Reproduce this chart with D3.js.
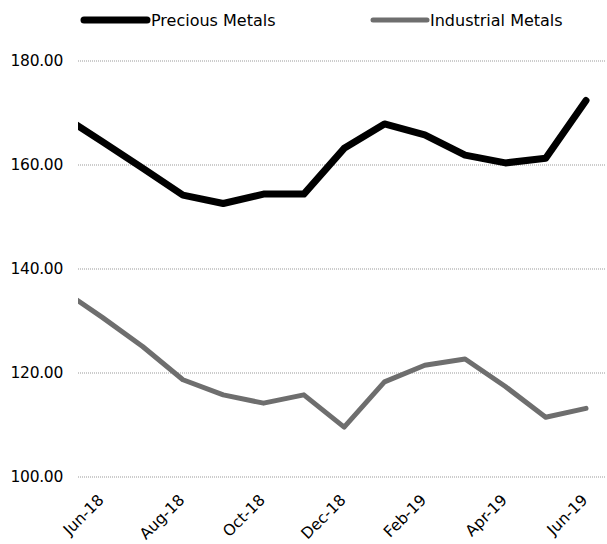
<!DOCTYPE html>
<html>
<head>
<meta charset="utf-8">
<script src="https://cdn.jsdelivr.net/npm/d3@7"></script>
<style>
  html, body { margin: 0; padding: 0; background: #fff; }
  svg { display: block; }
  text { font-family: "DejaVu Sans", sans-serif; fill: #000; }
</style>
</head>
<body>
<svg id="chart" width="607" height="544"></svg>
<script>
// Monthly index levels, May-18 through Jun-19
const months = ["May-18","Jun-18","Jul-18","Aug-18","Sep-18","Oct-18","Nov-18",
                "Dec-18","Jan-19","Feb-19","Mar-19","Apr-19","May-19","Jun-19"];
const preciousMetals   = [169.5, 164.5, 159.4, 154.2, 152.6, 154.4, 154.4,
                          163.2, 167.9, 165.8, 161.9, 160.4, 161.3, 172.4];
const industrialMetals = [136.0, 130.7, 125.1, 118.7, 115.8, 114.2, 115.8,
                          109.6, 118.3, 121.5, 122.7, 117.4, 111.5, 113.2];
const yTicks = [100, 120, 140, 160, 180];
const xTickLabels = ["Jun-18","Aug-18","Oct-18","Dec-18","Feb-19","Apr-19","Jun-19"];
const seriesNames = ["Precious Metals", "Industrial Metals"];

const FONT = "'DejaVu Sans', sans-serif";
const svg = d3.select("#chart");
const plot = { left: 78, right: 607, top: 61, bottom: 477 };

const x = d3.scalePoint()
  .domain(months)
  .range([62, 586]);

const y = d3.scaleLinear()
  .domain([100, 180])
  .range([plot.bottom, plot.top]);

svg.append("defs").append("clipPath").attr("id", "plotClip")
  .append("rect")
  .attr("x", plot.left).attr("y", 0)
  .attr("width", plot.right - plot.left).attr("height", 544);

// Horizontal dotted gridlines
svg.append("g")
  .selectAll("line")
  .data(yTicks)
  .join("line")
  .attr("x1", plot.left).attr("x2", plot.right - 1)
  .attr("y1", d => y(d)).attr("y2", d => y(d))
  .attr("stroke", "#999")
  .attr("stroke-width", 1)
  .attr("stroke-dasharray", "1,1");

// Y axis labels
const yAxis = d3.axisLeft(y).tickValues(yTicks).tickFormat(d3.format(".2f")).tickSize(0).tickPadding(0);
svg.append("g")
  .attr("transform", `translate(63,0)`)
  .call(yAxis)
  .call(g => g.select(".domain").remove())
  .call(g => g.selectAll("text")
    .style("font-family", FONT)
    .style("font-size", "15.5px")
    .style("letter-spacing", "-0.3px")
    .attr("fill", "#000"));

// X axis labels, rotated
const xAxis = d3.axisBottom(x).tickValues(xTickLabels).tickSize(0).tickPadding(0);
svg.append("g")
  .attr("transform", `translate(0,${plot.bottom})`)
  .call(xAxis)
  .call(g => g.select(".domain").remove())
  .call(g => g.selectAll("text")
    .style("font-family", FONT)
    .style("font-size", "15.5px")
    .attr("fill", "#000")
    .attr("text-anchor", "end")
    .attr("dy", null)
    .attr("y", 0)
    .attr("transform", "translate(2,24) rotate(-45)"));

const line = d3.line()
  .x((d, i) => x(months[i]))
  .y(d => y(d));

const lines = svg.append("g").attr("clip-path", "url(#plotClip)");

lines.append("path")
  .datum(industrialMetals)
  .attr("d", line)
  .attr("fill", "none")
  .attr("stroke", "#6e6e6e")
  .attr("stroke-width", 5)
  .attr("stroke-linejoin", "round")
  .attr("stroke-linecap", "round");

lines.append("path")
  .datum(preciousMetals)
  .attr("d", line)
  .attr("fill", "none")
  .attr("stroke", "#000")
  .attr("stroke-width", 7)
  .attr("stroke-linejoin", "round")
  .attr("stroke-linecap", "round");

// Legend
const legendItems = [
  { name: seriesNames[0], color: "#000", width: 7, x0: 84, x1: 147, tx: 151 },
  { name: seriesNames[1], color: "#6e6e6e", width: 5, x0: 373, x1: 427, tx: 430 }
];
const legend = svg.append("g");
legendItems.forEach(it => {
  legend.append("line")
    .attr("x1", it.x0).attr("x2", it.x1)
    .attr("y1", 20).attr("y2", 20)
    .attr("stroke", it.color)
    .attr("stroke-width", it.width)
    .attr("stroke-linecap", "round");
  legend.append("text")
    .attr("x", it.tx).attr("y", 20)
    .attr("dy", "0.35em")
    .style("font-size", "16px")
    .text(it.name);
});
</script>
</body>
</html>
